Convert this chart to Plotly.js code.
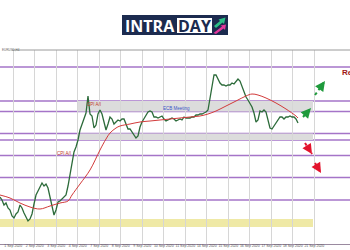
<!DOCTYPE html>
<html><head><meta charset="utf-8">
<script src="https://cdn.plot.ly/plotly-3.0.1.min.js"></script>
<style>html,body{margin:0;padding:0;background:#fff}#c{width:350px;height:250px}</style>
</head><body><div id="c"></div>
<script>
// ---- data ----
const priceClose = [1.1006,1.1000,1.0990,1.0994,1.0984,1.0980,1.0968,1.0964,1.0972,1.0976,
1.0990,1.0984,1.0974,1.0966,1.0958,1.0962,1.0972,1.0992,1.1010,1.1018,
1.1026,1.1034,1.1028,1.1032,1.1024,1.1006,1.0984,1.0970,1.0980,1.0996,
1.0998,1.1002,1.1006,1.1010,1.1028,1.1052,1.1072,1.1096,1.1106,1.1120,
1.1140,1.1152,1.1162,1.1174,1.1208,1.1172,1.1168,1.1144,1.1150,1.1172,
1.1180,1.1172,1.1156,1.1140,1.1152,1.1166,1.1162,1.1152,1.1156,1.1160,
1.1158,1.1162,1.1162,1.1152,1.1142,1.1142,1.1136,1.1128,1.1124,1.1128,
1.1146,1.1156,1.1162,1.1170,1.1176,1.1178,1.1176,1.1166,1.1166,1.1164,
1.1166,1.1168,1.1162,1.1158,1.1160,1.1162,1.1164,1.1162,1.1158,1.1160,
1.1162,1.1160,1.1166,1.1164,1.1164,1.1164,1.1166,1.1166,1.1170,1.1170,
1.1172,1.1172,1.1174,1.1176,1.1180,1.1204,1.1232,1.1250,1.1250,1.1242,
1.1234,1.1230,1.1230,1.1228,1.1230,1.1230,1.1234,1.1232,1.1238,1.1242,
1.1238,1.1226,1.1214,1.1206,1.1200,1.1194,1.1186,1.1174,1.1156,1.1160,
1.1178,1.1176,1.1180,1.1176,1.1160,1.1144,1.1142,1.1148,1.1156,1.1162,
1.1166,1.1166,1.1162,1.1166,1.1166,1.1168,1.1166,1.1166,1.1162,1.1154];
const maBars  = [0,5,10,15,20,25,30,34,36,40,45,50,53,55,58,60,65,70,75,80,85,90,95,100,104,108,113,118,123,126,129,133,138,143,148,149];
const maValue = [1.1010,1.1004,1.0994,1.0986,1.0982,1.0988,1.0994,1.0998,1.1010,1.1032,1.1060,1.1100,1.1122,1.1134,1.1144,1.1148,1.1152,1.1156,1.1158,1.1160,1.1162,1.1164,1.1166,1.1168,1.1172,1.1178,1.1188,1.1198,1.1208,1.1212,1.1210,1.1204,1.1194,1.1182,1.1168,1.1164];
const srLevels = [1.1266,1.1198,1.1177,1.1133,1.1120,1.1089,1.1045,1.1000];
const grayZones = [[1.1177,1.1198],[1.1120,1.1133]];
const yellowZone = [1.0946,1.0962];
const zoneStartBar = 39, zoneEndBar = 156.5;
const tickLabels = ["1 Sep 2020","2 Sep 2020","3 Sep 2020","4 Sep 2020","7 Sep 2020","8 Sep 2020","9 Sep 2020","10 Sep 2020","11 Sep 2020","14 Sep 2020","15 Sep 2020","16 Sep 2020","17 Sep 2020","18 Sep 2020","21 Sep 2020"];
const firstTickBar = 6.65, barsPerTick = 10.75;
const notes = [
  {text:"CPI A/I", bar:47, price:1.1192, color:"#c0392b"},
  {text:"CPI A/I", bar:32, price:1.1094, color:"#c0392b"},
  {text:"ECB Meeting", bar:88, price:1.1184, color:"#3a55c8"}
];
const upArrows = [[151.5,1.1166,155.5,1.1184],[157.5,1.1210,162.5,1.1238]];
const downArrows = [[152.5,1.1114,156,1.1092],[157.5,1.1074,160.5,1.1054]];

// ---- build ----
const bars = priceClose.map((_,i)=>i);
const tickVals = tickLabels.map((_,j)=>firstTickBar + j*barsPerTick);
const W=350, TOP=50, BOT=244;
const P = (px,py)=>[px/W, (BOT-py)/(BOT-TOP)];
const pathOf = pts => pts.map((p,i)=>{const q=P(p[0],p[1]);return (i?'L':'M')+q[0].toFixed(4)+','+q[1].toFixed(4);}).join(' ')+' Z';

const shapes = [];
grayZones.forEach(z=>shapes.push({type:'rect',xref:'x',yref:'y',x0:zoneStartBar,x1:zoneEndBar,y0:z[0],y1:z[1],fillcolor:'#dcdcdc',line:{width:0},layer:'below'}));
shapes.push({type:'rect',xref:'paper',yref:'y',x0:0,x1:zoneEndBar/175,y0:yellowZone[0],y1:yellowZone[1],fillcolor:'#efe9a6',line:{width:0},layer:'below'});
srLevels.forEach(v=>shapes.push({type:'line',xref:'paper',yref:'y',x0:0,x1:1,y0:v,y1:v,line:{color:'#a574c8',width:1.4},layer:'below'}));
shapes.push({type:'line',xref:'paper',yref:'paper',x0:12/W,x1:1,y0:1,y1:1,line:{color:'#9a9a9a',width:1}});
const annotations = [];
function addArrow(a,color){
  shapes.push({type:'line',xref:'x',yref:'y',x0:a[0],y0:a[1],x1:a[2],y1:a[3],line:{color:color,width:2,dash:'dot'}});
  annotations.push({x:a[2],y:a[3],ax:a[0]+(a[2]-a[0])*0.55,ay:a[1]+(a[3]-a[1])*0.55,axref:'x',ayref:'y',xref:'x',yref:'y',text:'',showarrow:true,arrowhead:2,arrowsize:1,arrowwidth:2,arrowcolor:color});
}
upArrows.forEach(a=>addArrow(a,'#1f9a3c'));
downArrows.forEach(a=>addArrow(a,'#e3132c'));
notes.forEach(n=>annotations.push({x:n.bar,y:n.price,xref:'x',yref:'y',xanchor:'center',yanchor:'middle',text:n.text,showarrow:false,font:{family:'Liberation Sans',size:4.5,color:n.color}}));
annotations.push({x:170,y:1.1256,xref:'x',yref:'y',xanchor:'left',yanchor:'middle',text:'<b>Resistance</b>',showarrow:false,font:{family:'Liberation Sans',size:8,color:'#a01818'}});
annotations.push({x:0,y:1,xref:'paper',yref:'paper',xanchor:'left',yanchor:'middle',text:'EURUSD,H4',showarrow:false,font:{family:'Liberation Sans',size:3,color:'#666'}});

// logo
const b0=P(122,35), b1=P(228,15);
shapes.push({type:'rect',xref:'paper',yref:'paper',x0:b0[0],y0:b0[1],x1:b1[0],y1:b1[1],fillcolor:'#1c2b4f',line:{width:0}});
const d0=P(177,33), d1=P(212,18);
shapes.push({type:'rect',xref:'paper',yref:'paper',x0:d0[0],y0:d0[1],x1:d1[0],y1:d1[1],fillcolor:'#ffffff',line:{width:0}});
shapes.push({type:'path',xref:'paper',yref:'paper',path:pathOf([[214,26],[220,21],[218.5,19.5],[225.5,17.5],[224,24],[222.5,22.5],[216,28]]),fillcolor:'#2bbf86',line:{width:0}});
shapes.push({type:'path',xref:'paper',yref:'paper',path:pathOf([[213.5,33],[222,26.5],[220.5,25.5],[226,24.5],[225,30],[223.5,28.5],[216,34]]),fillcolor:'#e2379a',line:{width:0}});
const t1=P(150,25.5), t2=P(194.5,25.5);
annotations.push({x:t1[0],y:t1[1],xref:'paper',yref:'paper',xanchor:'center',yanchor:'middle',text:'<b>INTRA</b>',showarrow:false,font:{family:'Open Sans',size:16,color:'#ffffff'}});
annotations.push({x:t2[0],y:t2[1],xref:'paper',yref:'paper',xanchor:'center',yanchor:'middle',text:'<b>DAY</b>',showarrow:false,font:{family:'Open Sans',size:16,color:'#1c2b4f'}});

const traces = [
  {x:bars,y:priceClose,type:'scatter',mode:'lines',line:{color:'#2c6b3a',width:1.3},hoverinfo:'skip'},
  {x:maBars,y:maValue,type:'scatter',mode:'lines',line:{color:'#d23a3a',width:1,shape:'spline'},hoverinfo:'skip'}
];
const layout = {
  width:350,height:250,margin:{l:0,r:0,t:TOP,b:250-BOT},
  paper_bgcolor:'#ffffff',plot_bgcolor:'#ffffff',showlegend:false,
  xaxis:{range:[0,175],tickmode:'array',tickvals:tickVals,ticktext:tickLabels,tickangle:0,showgrid:true,gridcolor:'#d6d6d6',gridwidth:1,zeroline:false,showline:true,linecolor:'#9a8aa0',linewidth:1,ticks:'',ticklabelstandoff:-2,tickfont:{family:'Liberation Sans',size:3.5,color:'#555'},automargin:false,fixedrange:true},
  yaxis:{range:[1.0912,1.1300],showgrid:false,zeroline:false,showticklabels:false,ticks:'',automargin:false,fixedrange:true},
  shapes:shapes,annotations:annotations
};
Plotly.newPlot('c',traces,layout,{staticPlot:true,displayModeBar:false});
</script></body></html>
